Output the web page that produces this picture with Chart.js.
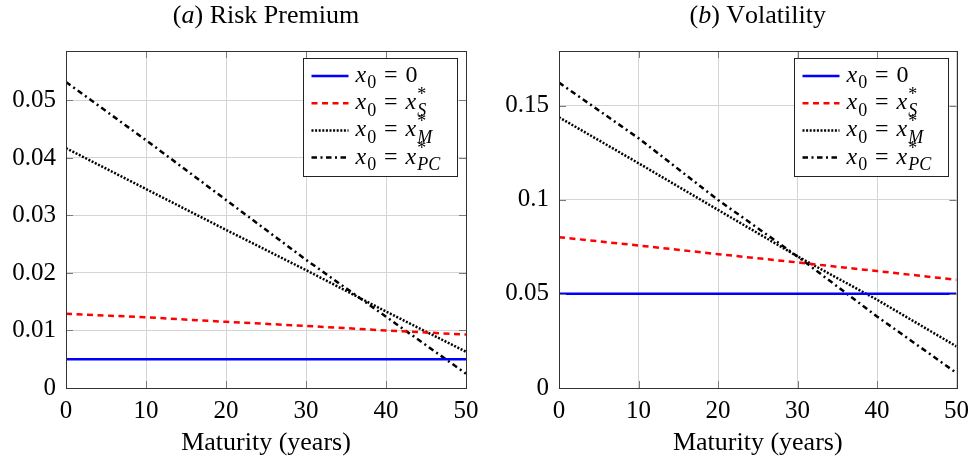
<!DOCTYPE html>
<html>
<head>
<meta charset="utf-8">
<script src="https://cdn.jsdelivr.net/npm/chart.js@4.4.0/dist/chart.umd.min.js"></script>
<style>
  body { margin: 0; background: #fff; }
  .panel { position: absolute; top: 0; height: 464px; }
</style>
</head>
<body>
<div class="panel" style="left:0;width:490px"><canvas id="premium" width="490" height="464"></canvas></div>
<div class="panel" style="left:490px;width:487px"><canvas id="volatility" width="487" height="464"></canvas></div>
<script>
var maturity = [0, 10, 20, 30, 40, 50];
var legendLabels = ['$x_0 = 0$', '$x_0 = x^*_S$', '$x_0 = x^*_M$', '$x_0 = x^*_{PC}$'];

// (a) risk premium
var premiumZero = [0.005, 0.005, 0.005, 0.005, 0.005, 0.005];
var premiumS    = [0.0129, 0.0123, 0.0115, 0.0108, 0.0100, 0.0093];
var premiumM    = [0.0417, 0.0346, 0.0275, 0.0205, 0.0133, 0.0063];
var premiumPC   = [0.0532, 0.0431, 0.0327, 0.0223, 0.0124, 0.0025];

// (b) volatility
var volZero = [0.05, 0.05, 0.05, 0.05, 0.05, 0.05];
var volS    = [0.0801, 0.0757, 0.0711, 0.0667, 0.0621, 0.0575];
var volM    = [0.1438, 0.1194, 0.0946, 0.0699, 0.0469, 0.0221];
var volPC   = [0.1622, 0.1327, 0.0999, 0.0699, 0.0380, 0.0080];

var SERIF = '"Liberation Serif", "Times New Roman", serif';

// tiny TeX-ish text: $..$ math (italic letters), _ sub, ^ sup
function texRuns(str) {
  var runs = [], math = false, i = 0;
  while (i < str.length) {
    var c = str[i];
    if (c === '$') { math = !math; i++; continue; }
    if (math && (c === '_' || c === '^')) {
      var arg;
      if (str[i + 1] === '{') {
        var j = str.indexOf('}', i);
        arg = str.slice(i + 2, j);
        i = j + 1;
      } else {
        arg = str[i + 1];
        i += 2;
      }
      runs.push({ text: arg, italic: /[A-Za-z]/.test(arg), script: c });
      continue;
    }
    if (math && c === ' ') { i++; continue; }
    if (math && c === '=') { runs.push({ text: '=', italic: false, gap: 0.33 }); i++; continue; }
    runs.push({ text: c, italic: math && /[A-Za-z]/.test(c) });
    i++;
  }
  return runs;
}

function layoutTex(ctx, str, size) {
  var x = 0, items = [], scriptStart = null, scriptEnd = 0;
  texRuns(str).forEach(function (r) {
    var fs = r.script ? size * 0.75 : size;
    var font = (r.italic ? 'italic ' : '') + fs + 'px ' + SERIF;
    ctx.font = font;
    var w = ctx.measureText(r.text).width;
    if (r.script) {
      if (scriptStart === null) { scriptStart = x + 1; scriptEnd = x + 1; }
      items.push({ text: r.text, font: font, x: scriptStart, dy: r.script === '_' ? size * 0.27 : -size * 0.38 });
      scriptEnd = Math.max(scriptEnd, scriptStart + w);
      x = scriptEnd;
    } else {
      scriptStart = null;
      var gap = (r.gap || 0) * size;
      items.push({ text: r.text, font: font, x: x + gap, dy: 0 });
      x += w + 2 * gap;
    }
  });
  return { items: items, width: x };
}

function drawTex(ctx, str, x, baseline, size, align) {
  var lay = layoutTex(ctx, str, size);
  var x0 = align === 'center' ? x - lay.width / 2 : x;
  ctx.fillStyle = '#000';
  ctx.textAlign = 'left';
  ctx.textBaseline = 'alphabetic';
  lay.items.forEach(function (it) {
    ctx.font = it.font;
    ctx.fillText(it.text, x0 + it.x, baseline + it.dy);
  });
}

// frame, inner tick marks, title and the boxed legend
var panelDecor = {
  id: 'panelDecor',
  afterDatasetsDraw: function (chart) {
    var ctx = chart.ctx, a = chart.chartArea, opts = chart.options.plugins.panelDecor;
    ctx.save();
    ctx.strokeStyle = '#7a7a7a';
    ctx.lineWidth = 1;
    chart.scales.x.ticks.forEach(function (t) {
      var px = Math.round(chart.scales.x.getPixelForValue(t.value)) + 0.5;
      ctx.beginPath();
      ctx.moveTo(px, a.top); ctx.lineTo(px, a.top + 7);
      ctx.moveTo(px, a.bottom); ctx.lineTo(px, a.bottom - 7);
      ctx.stroke();
    });
    chart.scales.y.ticks.forEach(function (t) {
      var py = Math.round(chart.scales.y.getPixelForValue(t.value)) + 0.5;
      ctx.beginPath();
      ctx.moveTo(a.left, py); ctx.lineTo(a.left + 7, py);
      ctx.moveTo(a.right, py); ctx.lineTo(a.right - 7, py);
      ctx.stroke();
    });
    ctx.strokeStyle = '#333';
    ctx.strokeRect(Math.round(a.left) + 0.5, Math.round(a.top) + 0.5,
      Math.round(a.right - a.left), Math.round(a.bottom - a.top));

    drawTex(ctx, opts.title, (a.left + a.right) / 2, 23, 26, 'center');

    // legend box
    var bw = 154, bh = 118;
    var bx = Math.round(a.right - 9 - bw) + 0.5, by = Math.round(a.top + 7) + 0.5;
    ctx.fillStyle = '#fff';
    ctx.fillRect(bx, by, bw, bh);
    ctx.strokeStyle = '#222';
    ctx.strokeRect(bx, by, bw, bh);
    chart.data.datasets.forEach(function (ds, i) {
      var cy = by + 17.5 + i * 27.2;
      ctx.beginPath();
      ctx.strokeStyle = ds.borderColor;
      ctx.lineWidth = ds.borderWidth;
      ctx.setLineDash(ds.borderDash || []);
      ctx.moveTo(bx + 8, cy);
      ctx.lineTo(bx + 45, cy);
      ctx.stroke();
      ctx.setLineDash([]);
      drawTex(ctx, ds.label, bx + 52, cy + 6, 24, 'left');
    });
    ctx.restore();
  }
};

function series(values, i) {
  var styles = [
    { color: '#0000ff', dash: [] },
    { color: '#ff0000', dash: [6, 4.5] },
    { color: '#000000', dash: [2, 1.6] },
    { color: '#000000', dash: [5.5, 3.5, 2, 3.5] }
  ];
  return {
    label: legendLabels[i],
    data: values.map(function (v, k) { return { x: maturity[k], y: v }; }),
    borderColor: styles[i].color,
    borderDash: styles[i].dash,
    borderWidth: 2.5,
    pointRadius: 0,
    fill: false,
    tension: 0
  };
}

function makePanel(id, title, lists, yMax, yStep, axisWidth, padRight) {
  return new Chart(document.getElementById(id), {
    type: 'line',
    data: { datasets: lists.map(series) },
    plugins: [panelDecor],
    options: {
      responsive: false,
      animation: false,
      devicePixelRatio: 1,
      layout: { padding: { top: 51, right: padRight, bottom: 0, left: 0 } },
      plugins: {
        legend: { display: false },
        tooltip: { enabled: false },
        panelDecor: { title: title }
      },
      scales: {
        x: {
          type: 'linear',
          min: 0, max: 50,
          border: { display: false },
          grid: { color: '#d4d4d4', drawTicks: false },
          ticks: {
            stepSize: 10, padding: 8, maxRotation: 0, color: '#000',
            font: { family: SERIF, size: 25 }
          },
          title: {
            display: true, text: 'Maturity (years)', color: '#000',
            font: { family: SERIF, size: 26 }, padding: { top: 0, bottom: 5 }
          },
          afterFit: function (s) { s.height = 76; }
        },
        y: {
          min: 0, max: yMax,
          border: { display: false },
          grid: { color: '#d4d4d4', drawTicks: false },
          ticks: {
            stepSize: yStep, includeBounds: false, padding: 10, color: '#000',
            font: { family: SERIF, size: 25 },
            callback: function (v) { return String(+v.toFixed(3)); }
          },
          afterFit: function (s) { s.width = axisWidth; }
        }
      }
    }
  });
}

makePanel('premium', '($a$) Risk Premium',
  [premiumZero, premiumS, premiumM, premiumPC], 0.0586, 0.01, 66, 24);
makePanel('volatility', '($b$) Volatility',
  [volZero, volS, volM, volPC], 0.179, 0.05, 69, 17);
</script>
</body>
</html>
